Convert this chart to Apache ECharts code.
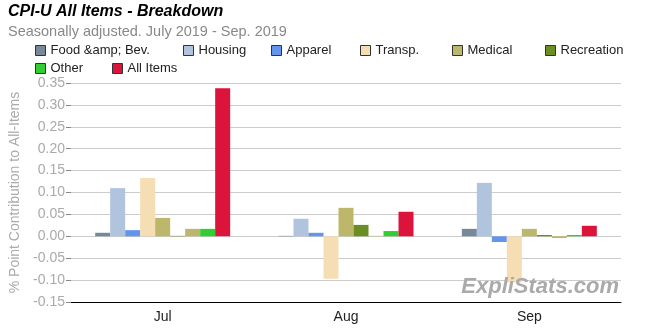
<!DOCTYPE html>
<html>
<head>
<meta charset="utf-8">
<script src="https://cdn.jsdelivr.net/npm/echarts@6/dist/echarts.min.js"></script>
<style>
html,body{margin:0;padding:0;background:#fff;}
#c{width:650px;height:330px;}
</style>
</head>
<body>
<div id="c"></div>
<script>
const categories = ['Jul', 'Aug', 'Sep'];
const seriesNames = ['Food &amp; Bev.', 'Housing', 'Apparel', 'Transp.', 'Medical', 'Recreation', 'Educ. & Comm.', 'Other', 'All Items'];
const legendNames = ['Food &amp; Bev.', 'Housing', 'Apparel', 'Transp.', 'Medical', 'Recreation', 'Other', 'All Items'];
const foodBev    = [0.008, 0.001, 0.017];
const housing    = [0.110, 0.040, 0.122];
const apparel    = [0.014, 0.008, -0.013];
const transp     = [0.133, -0.097, -0.105];
const medical    = [0.042, 0.065, 0.017];
const recreation = [0.001, 0.026, 0.003];
const educComm   = [0.017, 0.001, -0.004];
const other      = [0.017, 0.012, 0.003];
const allItems   = [0.338, 0.056, 0.024];
const yTicks = { min: -0.15, max: 0.35, interval: 0.05 };

const values = [foodBev, housing, apparel, transp, medical, recreation, educComm, other, allItems];
const colors = ['#778899', '#B0C4DE', '#6495ED', '#F5DEB3', '#BDB76B', '#6B8E23', '#BDB76B', '#32CD32', '#DC143C'];
// legend item positions (left, top)
const legendPos = [[35, 44], [183, 44], [271, 44], [360, 44], [452, 44], [545, 44], [35, 62], [112, 62]];

const font = '"Liberation Sans", Arial, sans-serif';
const chart = echarts.init(document.getElementById('c'), null, { renderer: 'canvas' });

const legends = legendNames.map((n, i) => ({
  data: [n],
  left: legendPos[i][0],
  top: legendPos[i][1],
  icon: 'rect',
  itemWidth: 10,
  itemHeight: 10,
  itemStyle: { borderColor: '#333', borderWidth: 1 },
  textStyle: { fontFamily: font, fontSize: 13, color: '#222' },
  padding: 0
}));

chart.setOption({
  animation: false,
  backgroundColor: '#fff',
  title: [
    { text: 'CPI-U All Items - Breakdown', left: 8, top: 4, padding: 0,
      textStyle: { fontFamily: font, fontSize: 16, fontWeight: 'bold', fontStyle: 'italic', color: '#000' } },
    { text: 'Seasonally adjusted. July 2019 - Sep. 2019', left: 8, top: 24, padding: 0,
      textStyle: { fontFamily: font, fontSize: 14.5, fontWeight: 'normal', color: '#888' } }
  ],
  legend: legends,
  grid: { left: 67, right: 29, top: 83, bottom: 28, containLabel: false },
  xAxis: {
    type: 'category',
    data: categories,
    axisLine: { onZero: false, lineStyle: { color: '#000', width: 1 } },
    axisTick: { alignWithLabel: true, length: 5, lineStyle: { color: '#000' } },
    axisLabel: { fontFamily: font, fontSize: 14, color: '#222', margin: 8 },
    splitLine: { show: false }
  },
  yAxis: {
    type: 'value',
    min: yTicks.min, max: yTicks.max, interval: yTicks.interval,
    name: '% Point Contribution to All-Items',
    nameLocation: 'middle',
    nameGap: 49,
    nameTextStyle: { fontFamily: font, fontSize: 14, color: '#aaa' },
    axisLine: { show: false },
    axisTick: { show: true, length: 5, lineStyle: { color: '#888' } },
    axisLabel: { fontFamily: font, fontSize: 14, color: '#aaa', margin: 6,
      formatter: v => v.toFixed(2) },
    splitLine: { lineStyle: { color: '#ccc', width: 1 } }
  },
  series: seriesNames.map((n, i) => ({
    name: n,
    type: 'bar',
    data: values[i],
    barWidth: 15,
    barGap: 0,
    itemStyle: { color: colors[i] }
  })),
  graphic: [{
    type: 'text',
    right: 31,
    top: 276,
    z: 100,
    style: {
      text: 'ExpliStats.com',
      font: 'italic bold 22px ' + font,
      fill: '#aaa',
      shadowColor: 'rgba(0,0,0,0.35)',
      shadowBlur: 2,
      shadowOffsetX: 1,
      shadowOffsetY: 1
    }
  }]
});
</script>
</body>
</html>
